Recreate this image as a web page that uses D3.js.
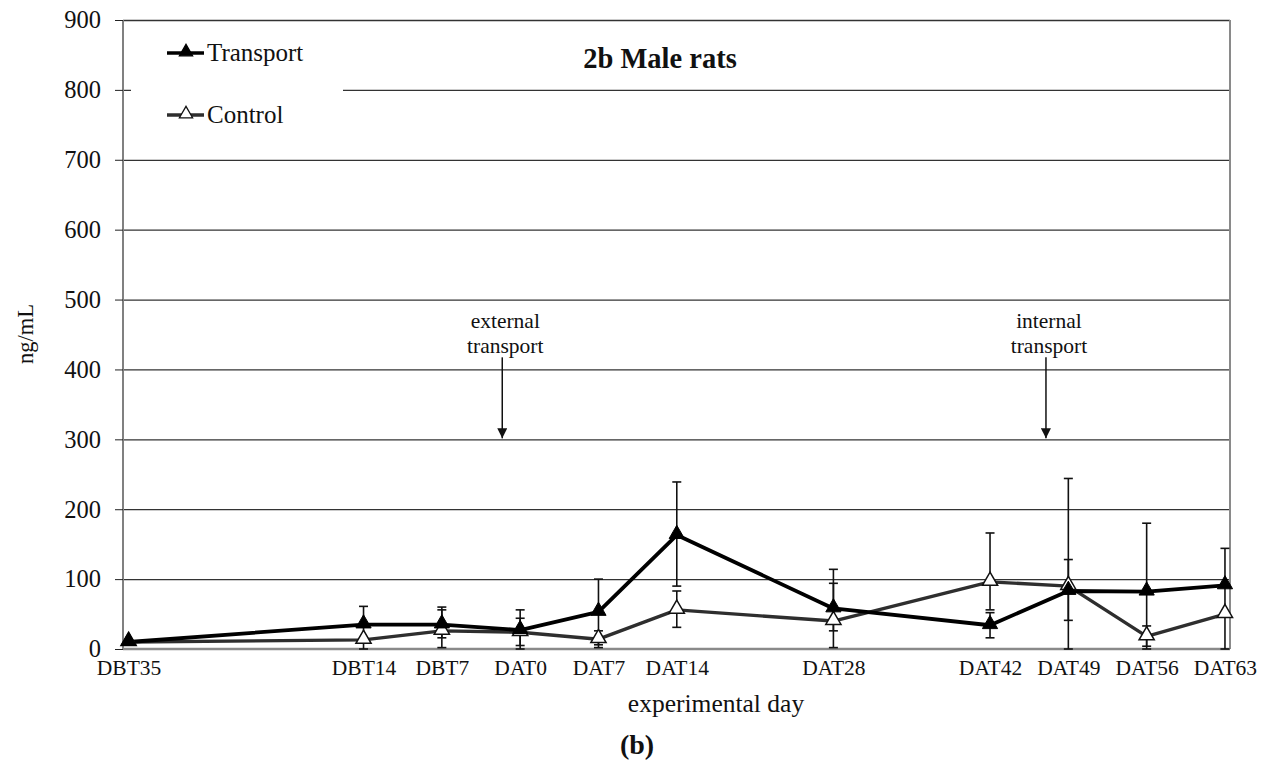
<!DOCTYPE html>
<html>
<head>
<meta charset="utf-8">
<script src="https://cdn.jsdelivr.net/npm/d3@7"></script>
<style>
  html, body { margin: 0; padding: 0; background: #fff; }
  svg { display: block; }
  text { font-family: "Liberation Serif", "Times New Roman", serif; fill: #111; }
</style>
</head>
<body>
<svg id="chart" width="1271" height="762"></svg>
<script>
// ---- data ----
const categories = ["DBT35","DBT14","DBT7","DAT0","DAT7","DAT14","DAT28","DAT42","DAT49","DAT56","DAT63"];
const days       = [-35, -14, -7, 0, 7, 14, 28, 42, 49, 56, 63];

const transport      = [10, 35, 35, 27, 53, 163, 58, 34, 83, 82, 91];
const transportUpper = [10, 61, 60, 56, 100, 239, 114, 52, 244, 180, 144];
const transportLower = [10, 9, 16, 0, 6, 90, 2, 16, 0, 0, 91];

const control      = [10, 13, 26, 24, 14, 56, 40, 96, 90, 18, 50];
const controlUpper = [10, 13, 56, 44, 26, 83, 94, 166, 128, 33, 91];
const controlLower = [10, 0, 2, 5, 2, 31, 26, 56, 41, 4, 0];

const yTicks = [0, 100, 200, 300, 400, 500, 600, 700, 800, 900];
const annotations = [
  {lines: ["external", "transport"], day: -1.6, value: 300},
  {lines: ["internal", "transport"], day: 47, value: 300}
];
const seriesNames = ["Transport", "Control"];

// ---- layout ----
const svg = d3.select("#chart");
const pLeft = 123, pRight = 1230, pTop = 20, pBottom = 649;
const serif = "'Liberation Serif', 'Times New Roman', serif";

const x = d3.scaleLinear().domain([-35.5, 63.45]).range([pLeft, pRight]);
const y = d3.scaleLinear().domain([0, 900]).range([pBottom, pTop]);

// gridlines
svg.append("g").selectAll("line").data(yTicks.filter(d => d > 0)).join("line")
  .attr("x1", pLeft).attr("x2", pRight)
  .attr("y1", d => y(d) + 0.5).attr("y2", d => y(d) + 0.5)
  .attr("stroke", "#333").attr("stroke-width", 1.3);

// plot borders (left, right, bottom)
svg.append("line").attr("x1", pLeft).attr("x2", pLeft).attr("y1", pTop).attr("y2", pBottom)
  .attr("stroke", "#808080").attr("stroke-width", 2);
svg.append("line").attr("x1", pRight).attr("x2", pRight).attr("y1", pTop).attr("y2", pBottom)
  .attr("stroke", "#8a8a8a").attr("stroke-width", 2);
svg.append("line").attr("x1", pLeft).attr("x2", pRight).attr("y1", pBottom).attr("y2", pBottom)
  .attr("stroke", "#8a8a8a").attr("stroke-width", 2.5);

// y axis ticks + labels
const yAxis = d3.axisLeft(y).tickValues(yTicks).tickSize(8).tickPadding(14).tickFormat(d3.format("d"));
const gy = svg.append("g").attr("transform", `translate(${pLeft},0)`).call(yAxis);
gy.attr("font-family", null);
gy.select(".domain").remove();
gy.selectAll(".tick line").attr("stroke", "#222").attr("stroke-width", 1);
gy.selectAll(".tick text").attr("font-size", 24.5).style("font-family", serif).attr("fill", "#111");

// x tick labels
const xAxis = d3.axisBottom(x).tickValues(days).tickSize(0).tickPadding(11)
  .tickFormat((d, i) => categories[i]);
const gx = svg.append("g").attr("transform", `translate(0,${pBottom})`).call(xAxis);
gx.attr("font-family", null);
gx.select(".domain").remove();
gx.selectAll(".tick text").attr("font-size", 21.5).style("font-family", serif).attr("fill", "#111");

// axis titles
svg.append("text").attr("transform", "translate(33,334) rotate(-90)")
  .attr("text-anchor", "middle").attr("font-size", 22.5).style("font-family", serif).text("ng/mL");
svg.append("text").attr("x", 716).attr("y", 712).attr("text-anchor", "middle")
  .attr("font-size", 25.5).style("font-family", serif).text("experimental day");
svg.append("text").attr("x", 637).attr("y", 754).attr("text-anchor", "middle")
  .attr("font-size", 28).attr("font-weight", "bold").style("font-family", serif).text("(b)");

// legend box (white, hides gridline)
svg.append("rect").attr("x", pLeft + 8).attr("y", pTop + 3).attr("width", 212).attr("height", 118).attr("fill", "#fff");

// title
svg.append("text").attr("x", 660).attr("y", 68).attr("text-anchor", "middle")
  .attr("font-size", 28.5).attr("font-weight", "bold").style("font-family", serif).text("2b Male rats");

// annotations
svg.append("defs").append("marker").attr("id", "arr").attr("viewBox", "0 0 10 10")
  .attr("refX", 10).attr("refY", 5).attr("markerWidth", 11).attr("markerHeight", 10)
  .attr("markerUnits", "userSpaceOnUse").attr("orient", "auto")
  .append("path").attr("d", "M0,0 L10,5 L0,10 Z").attr("fill", "#111");
annotations.forEach(a => {
  const ax = x(a.day);
  const tipY = y(a.value) - 1;
  a.lines.forEach((t, i) => {
    svg.append("text").attr("x", ax + 3).attr("y", tipY - 110 + i * 25)
      .attr("text-anchor", "middle").attr("font-size", 21.5).style("font-family", serif).text(t);
  });
  svg.append("line").attr("x1", ax).attr("x2", ax).attr("y1", tipY - 81).attr("y2", tipY)
    .attr("stroke", "#111").attr("stroke-width", 1.5).attr("marker-end", "url(#arr)");
});

// series
const tri = d3.symbol().type(d3.symbolTriangle).size(100);
function drawErrors(vals, up, lo) {
  const pts = days.map((d, i) => ({d, v: vals[i], u: up[i], l: lo[i]}));
  const g = svg.append("g");
  pts.forEach(p => {
    [p.u, p.l].forEach(end => {
      if (end === p.v) return;
      g.append("line").attr("x1", x(p.d)).attr("x2", x(p.d)).attr("y1", y(p.v)).attr("y2", y(end))
        .attr("stroke", "#111").attr("stroke-width", 1.6);
      g.append("line").attr("x1", x(p.d) - 4.5).attr("x2", x(p.d) + 4.5).attr("y1", y(end)).attr("y2", y(end))
        .attr("stroke", "#111").attr("stroke-width", 1.6);
    });
  });
  return pts;
}
const tPts = drawErrors(transport, transportUpper, transportLower);
const cPts = drawErrors(control, controlUpper, controlLower);

const line = d3.line().x(p => x(p.d)).y(p => y(p.v));
svg.append("path").datum(cPts).attr("d", line).attr("fill", "none")
  .attr("stroke", "#2e2e2e").attr("stroke-width", 3.4).attr("stroke-linejoin", "round");
svg.append("path").datum(tPts).attr("d", line).attr("fill", "none")
  .attr("stroke", "#000").attr("stroke-width", 3.8).attr("stroke-linejoin", "round");

svg.append("g").selectAll("path").data(cPts).join("path")
  .attr("d", tri).attr("transform", p => `translate(${x(p.d)},${y(p.v) - 1})`)
  .attr("fill", "#fff").attr("stroke", "#111").attr("stroke-width", 1.5);
svg.append("g").selectAll("path").data(tPts).join("path")
  .attr("d", tri).attr("transform", p => `translate(${x(p.d)},${y(p.v) - 1})`)
  .attr("fill", "#000").attr("stroke", "#000").attr("stroke-width", 1);

// legend
const legend = [
  {name: seriesNames[0], fill: "#000", stroke: "#000", color: "#000", yy: 53},
  {name: seriesNames[1], fill: "#fff", stroke: "#111", color: "#2e2e2e", yy: 115}
];
legend.forEach(l => {
  svg.append("line").attr("x1", 167).attr("x2", 204).attr("y1", l.yy).attr("y2", l.yy)
    .attr("stroke", l.color).attr("stroke-width", 3.6);
  svg.append("path").attr("d", d3.symbol().type(d3.symbolTriangle).size(75))
    .attr("transform", `translate(186,${l.yy - 1})`).attr("fill", l.fill).attr("stroke", l.stroke).attr("stroke-width", 1.3);
  svg.append("text").attr("x", 207).attr("y", l.yy + 8).attr("font-size", 25).style("font-family", serif).text(l.name);
});
</script>
</body>
</html>
